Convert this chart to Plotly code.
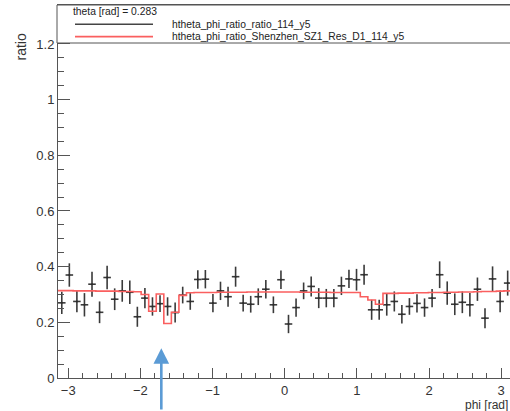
import math
import plotly.graph_objects as go

# 60 phi bins over [-pi, pi]
N_BINS = 60
PHI_MIN, PHI_MAX = -math.pi, math.pi

# measured ratio per phi bin (black points) and its statistical error
ratio_vals = [
    0.270, 0.370, 0.275, 0.263, 0.337, 0.236, 0.361, 0.283, 0.313, 0.308,
    0.220, 0.287, 0.257, 0.267, 0.257, 0.235, 0.298, 0.275, 0.354, 0.355,
    0.269, 0.313, 0.292, 0.364, 0.269, 0.265, 0.292, 0.319, 0.263, 0.353,
    0.194, 0.253, 0.313, 0.329, 0.287, 0.287, 0.287, 0.331, 0.356, 0.353,
    0.371, 0.245, 0.245, 0.263, 0.275, 0.229, 0.257, 0.268, 0.253, 0.287,
    0.371, 0.305, 0.265, 0.272, 0.263, 0.319, 0.215, 0.356, 0.275, 0.341,
]
ratio_errs = [
    0.040, 0.042, 0.039, 0.042, 0.045, 0.039, 0.042, 0.039, 0.039, 0.042,
    0.036, 0.036, 0.033, 0.030, 0.033, 0.036, 0.030, 0.030, 0.033, 0.033,
    0.033, 0.033, 0.036, 0.036, 0.030, 0.030, 0.030, 0.033, 0.030, 0.033,
    0.033, 0.033, 0.030, 0.036, 0.036, 0.033, 0.033, 0.033, 0.033, 0.039,
    0.036, 0.036, 0.036, 0.039, 0.036, 0.033, 0.030, 0.033, 0.033, 0.033,
    0.048, 0.042, 0.039, 0.039, 0.042, 0.042, 0.036, 0.045, 0.039, 0.045,
]
# simulated ratio per phi bin (red histogram)
model_vals = [
    0.314, 0.314, 0.313, 0.313, 0.313, 0.312, 0.312, 0.312, 0.311, 0.311,
    0.310, 0.300, 0.240, 0.302, 0.196, 0.236, 0.297, 0.306, 0.307, 0.307,
    0.307, 0.308, 0.308, 0.308, 0.308, 0.309, 0.309, 0.309, 0.309, 0.309,
    0.309, 0.309, 0.308, 0.308, 0.308, 0.308, 0.307, 0.307, 0.307, 0.307,
    0.292, 0.280, 0.265, 0.304, 0.304, 0.305, 0.305, 0.306, 0.306, 0.307,
    0.307, 0.308, 0.308, 0.309, 0.309, 0.310, 0.311, 0.311, 0.312, 0.313,
]

theta_label = "theta [rad] = 0.283"
data_name = "htheta_phi_ratio_ratio_114_y5"
model_name = "htheta_phi_ratio_Shenzhen_SZ1_Res_D1_114_y5"

bin_w = (PHI_MAX - PHI_MIN) / N_BINS
centers = [PHI_MIN + (i + 0.5) * bin_w for i in range(N_BINS)]
edges = [PHI_MIN + i * bin_w for i in range(N_BINS + 1)]

W, H = 510, 411
M_L, M_R, M_T, M_B = 58, 0, 5, 33
PW, PH = W - M_L - M_R, H - M_T - M_B
X_RANGE = [PHI_MIN, 3.1215]
Y_RANGE = [0, 1.34]


def px_x(px):
    return (px - M_L) / PW


def px_y(py):
    return (H - M_B - py) / PH


FONT = "Liberation Sans, Arial, Helvetica, sans-serif"
INK = "#2b2b2b"
RED = "rgb(250,95,95)"

fig = go.Figure()

fig.add_trace(go.Scatter(
    x=centers, y=ratio_vals, mode="markers",
    marker=dict(size=2, color=INK),
    error_y=dict(type="data", array=ratio_errs, width=0, thickness=1.6, color="#3a3a3a"),
    error_x=dict(type="constant", value=bin_w / 2, width=0, thickness=1.6, color="#3a3a3a"),
    showlegend=False, hoverinfo="skip",
))

fig.add_trace(go.Scatter(
    x=edges, y=model_vals + [model_vals[-1]], mode="lines",
    line=dict(color=RED, width=1.6, shape="hv"),
    showlegend=False, hoverinfo="skip",
))

axis_common = dict(
    showline=True, linecolor="#555", linewidth=1, mirror=True,
    ticks="inside", tickcolor="#555", tickwidth=1,
    showgrid=False, zeroline=False,
    tickfont=dict(family=FONT, size=13, color="#333"),
)

fig.update_xaxes(
    range=X_RANGE, tick0=0, dtick=1, ticklen=10,
    minor=dict(dtick=0.2, tick0=0, ticklen=5, ticks="inside", tickcolor="#555"),
    **axis_common,
)
fig.update_yaxes(
    range=Y_RANGE, tick0=0, dtick=0.2, ticklen=12,
    tickvals=[0, 0.2, 0.4, 0.6, 0.8, 1.0, 1.2],
    ticktext=["0", "0.2", "0.4", "0.6", "0.8", "1", "1.2"],
    minor=dict(dtick=0.05, tick0=0, ticklen=6, ticks="inside", tickcolor="#555"),
    **axis_common,
)

shapes = [
    # legend box along the top of the frame
    dict(type="rect", xref="paper", yref="paper",
         x0=px_x(57), x1=px_x(520), y0=px_y(43), y1=px_y(5),
         line=dict(color="#555", width=1), fillcolor="white", layer="above"),
    dict(type="line", xref="paper", yref="paper",
         x0=px_x(75), x1=px_x(153), y0=px_y(24.3), y1=px_y(24.3),
         line=dict(color="#444", width=1.5)),
    dict(type="line", xref="paper", yref="paper",
         x0=px_x(75), x1=px_x(153), y0=px_y(36.7), y1=px_y(36.7),
         line=dict(color=RED, width=1.8)),
]

small = dict(family=FONT, size=10.3, color="#222")
annotations = [
    dict(text=theta_label, xref="paper", yref="paper", x=px_x(71), y=px_y(11.5),
         xanchor="left", yanchor="middle", showarrow=False, font=small),
    dict(text=data_name, xref="paper", yref="paper", x=px_x(170), y=px_y(24),
         xanchor="left", yanchor="middle", showarrow=False, font=small),
    dict(text=model_name, xref="paper", yref="paper", x=px_x(170), y=px_y(37),
         xanchor="left", yanchor="middle", showarrow=False, font=small),
    # axis titles
    dict(text="ratio", xref="paper", yref="paper", x=px_x(21), y=px_y(47.5),
         xanchor="center", yanchor="middle", textangle=-90, showarrow=False,
         font=dict(family=FONT, size=14, color="#333")),
    dict(text="phi [rad]", xref="paper", yref="paper", x=px_x(510), y=px_y(404.5),
         xanchor="right", yanchor="middle", showarrow=False,
         font=dict(family=FONT, size=12, color="#333")),
    # blue arrow pointing at the dip region
    dict(text="", x=-1.71, y=0.107, xref="x", yref="y",
         showarrow=True, ax=0, ay=66, arrowhead=2, arrowsize=1.2,
         arrowwidth=2.6, arrowcolor="#5b9bd5", standoff=0),
]

fig.update_layout(
    width=W, height=H,
    margin=dict(l=M_L, r=M_R, t=M_T, b=M_B),
    paper_bgcolor="white", plot_bgcolor="white",
    shapes=shapes, annotations=annotations,
    showlegend=False,
)

fig.write_html("out.html")
